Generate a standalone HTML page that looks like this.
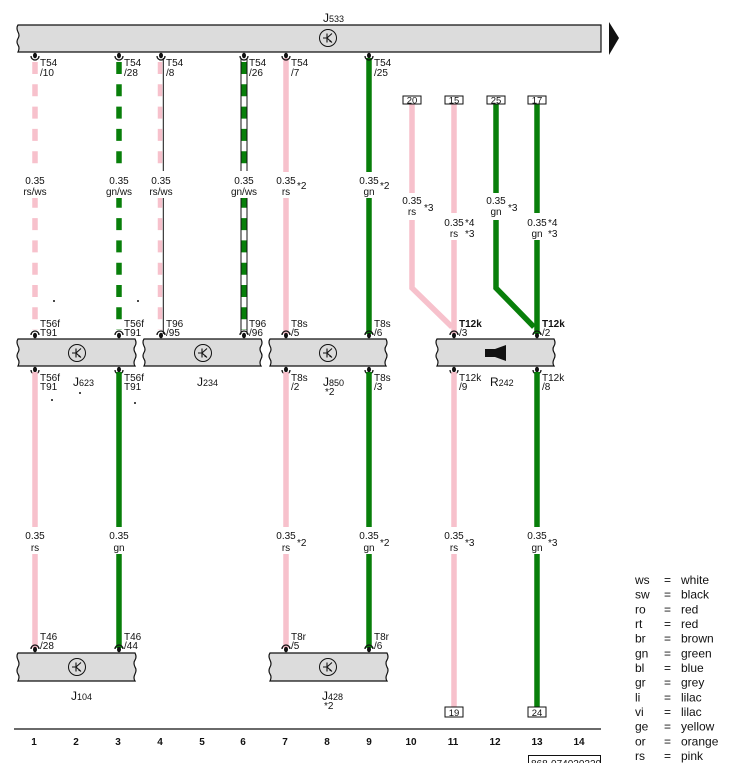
<!DOCTYPE html>
<html><head><meta charset="utf-8"><style>
html,body{margin:0;padding:0;background:#fff;}
svg{display:block;font-family:"Liberation Sans",Arial,sans-serif;}
text{fill:#111;font-size:10px;}
.c{text-anchor:middle;}
.b{font-weight:bold;}
</style></head><body>
<svg width="737" height="771" viewBox="0 0 737 771" xmlns="http://www.w3.org/2000/svg">
<defs>
<g id="sym">
<circle cx="0" cy="0" r="8.5" fill="none" stroke="#111" stroke-width="1"/>
<path d="M-5 0 H-1 M-1 -4.5 V4.5 M-1 0 L4 -4.5 M-1 0 L4 4.5" stroke="#111" stroke-width="1.1" fill="none"/>
<path d="M4 4.5 L1.2 3.8 L2.8 2.2 Z" fill="#111"/>
</g>
<g id="cup"><path d="M-4 4 A4 4 0 0 0 4 4" fill="none" stroke="#111" stroke-width="1.3"/><ellipse cx="0" cy="3.5" rx="2" ry="2.8" fill="#111"/></g>
<g id="cap"><path d="M-4 -4 A4 4 0 0 1 4 -4" fill="none" stroke="#111" stroke-width="1.3"/><ellipse cx="0" cy="-3.5" rx="2" ry="2.8" fill="#111"/></g>
</defs>

<!-- Top bar J533 -->
<path d="M18 25 H601 V52 H18 q2 -4 0 -7 q-2 -3 0 -6.5 q2 -3 0 -6.5 q-2 -4 0 -7 Z" fill="#dcdcdc" stroke="#111" stroke-width="1.2"/>
<path d="M609 22 L619 38 L609 55 Z" fill="#111"/>
<text x="323" y="22" style="font-size:12px">J<tspan style="font-size:9px">533</tspan></text>
<use href="#sym" x="328" y="38"/>

<!-- Top section wires (dashed) -->
<line x1="35" y1="62" x2="35" y2="330" stroke="#f7c1cc" stroke-width="5.5" stroke-dasharray="12 10.3"/>
<line x1="119" y1="62" x2="119" y2="330" stroke="#087f0a" stroke-width="5.5" stroke-dasharray="12 10.3"/>
<line x1="160" y1="62" x2="160" y2="330" stroke="#f7c1cc" stroke-width="4.5" stroke-dasharray="12 10.3"/>
<line x1="163.3" y1="58" x2="163.3" y2="334" stroke="#111" stroke-width="1"/>
<line x1="241" y1="58" x2="241" y2="334" stroke="#111" stroke-width="1"/>
<line x1="247" y1="58" x2="247" y2="334" stroke="#111" stroke-width="1"/>
<line x1="244" y1="62" x2="244" y2="330" stroke="#087f0a" stroke-width="5" stroke-dasharray="12 10.3"/>
<rect x="21" y="171" width="28" height="27" fill="#fff"/>
<rect x="105" y="171" width="28" height="27" fill="#fff"/>
<rect x="146" y="171" width="28" height="27" fill="#fff"/>
<rect x="230" y="171" width="28" height="27" fill="#fff"/>

<!-- Top solid wires -->
<line x1="286" y1="58" x2="286" y2="172" stroke="#f7c1cc" stroke-width="5.5"/>
<line x1="286" y1="198" x2="286" y2="334" stroke="#f7c1cc" stroke-width="5.5"/>
<line x1="369" y1="58" x2="369" y2="172" stroke="#087f0a" stroke-width="5.5"/>
<line x1="369" y1="198" x2="369" y2="334" stroke="#087f0a" stroke-width="5.5"/>

<!-- right side wires -->
<polyline points="412,104 412,193" fill="none" stroke="#f7c1cc" stroke-width="5.5"/>
<polyline points="412,220 412,288 452,327" fill="none" stroke="#f7c1cc" stroke-width="5.5"/>
<line x1="454" y1="104" x2="454" y2="213" stroke="#f7c1cc" stroke-width="5.5"/>
<line x1="454" y1="240" x2="454" y2="334" stroke="#f7c1cc" stroke-width="5.5"/>
<polyline points="496,104 496,193" fill="none" stroke="#087f0a" stroke-width="5.5"/>
<polyline points="496,220 496,288 534,327" fill="none" stroke="#087f0a" stroke-width="5.5"/>
<line x1="537" y1="104" x2="537" y2="213" stroke="#087f0a" stroke-width="5.5"/>
<line x1="537" y1="240" x2="537" y2="334" stroke="#087f0a" stroke-width="5.5"/>

<!-- top boxes -->
<rect x="403" y="96" width="18" height="8" fill="#fff" stroke="#111" stroke-width="1"/>
<rect x="445" y="96" width="18" height="8" fill="#fff" stroke="#111" stroke-width="1"/>
<rect x="487" y="96" width="18" height="8" fill="#fff" stroke="#111" stroke-width="1"/>
<rect x="528" y="96" width="18" height="8" fill="#fff" stroke="#111" stroke-width="1"/>
<text class="c" x="412" y="103.5" style="font-size:9.5px">20</text>
<text class="c" x="454" y="103.5" style="font-size:9.5px">15</text>
<text class="c" x="496" y="103.5" style="font-size:9.5px">25</text>
<text class="c" x="537" y="103.5" style="font-size:9.5px">17</text>

<!-- top connector glyphs -->
<use href="#cup" x="35" y="52"/><use href="#cup" x="119" y="52"/><use href="#cup" x="161" y="52"/>
<use href="#cup" x="244" y="52"/><use href="#cup" x="286" y="52"/><use href="#cup" x="369" y="52"/>
<text x="40" y="66">T54</text><text x="40" y="76">/10</text>
<text x="124" y="66">T54</text><text x="124" y="76">/28</text>
<text x="166" y="66">T54</text><text x="166" y="76">/8</text>
<text x="249" y="66">T54</text><text x="249" y="76">/26</text>
<text x="291" y="66">T54</text><text x="291" y="76">/7</text>
<text x="374" y="66">T54</text><text x="374" y="76">/25</text>

<!-- top wire labels -->
<text class="c" x="35" y="184">0.35</text><text class="c" x="35" y="195">rs/ws</text>
<text class="c" x="119" y="184">0.35</text><text class="c" x="119" y="195">gn/ws</text>
<text class="c" x="161" y="184">0.35</text><text class="c" x="161" y="195">rs/ws</text>
<text class="c" x="244" y="184">0.35</text><text class="c" x="244" y="195">gn/ws</text>
<text class="c" x="286" y="184">0.35</text><text class="c" x="286" y="195">rs</text><text x="297" y="189">*2</text>
<text class="c" x="369" y="184">0.35</text><text class="c" x="369" y="195">gn</text><text x="380" y="189">*2</text>
<text class="c" x="412" y="204">0.35</text><text class="c" x="412" y="215">rs</text><text x="424" y="211">*3</text>
<text class="c" x="454" y="226">0.35</text><text class="c" x="454" y="237">rs</text><text x="465" y="226">*4</text><text x="465" y="237">*3</text>
<text class="c" x="496" y="204">0.35</text><text class="c" x="496" y="215">gn</text><text x="508" y="211">*3</text>
<text class="c" x="537" y="226">0.35</text><text class="c" x="537" y="237">gn</text><text x="548" y="226">*4</text><text x="548" y="237">*3</text>

<circle cx="54" cy="301" r="1" fill="#111"/><circle cx="138" cy="301" r="1" fill="#111"/>

<!-- middle bars -->
<path d="M18 339 H135 q2 4 0 7 q-2 3 0 6.5 q2 3 0 6.5 q-2 4 0 7 H18 q2 -4 0 -7 q-2 -3 0 -6.5 q2 -3 0 -6.5 q-2 -4 0 -7 Z" fill="#dcdcdc" stroke="#111" stroke-width="1.2"/>
<path d="M144 339 H261 q2 4 0 7 q-2 3 0 6.5 q2 3 0 6.5 q-2 4 0 7 H144 q2 -4 0 -7 q-2 -3 0 -6.5 q2 -3 0 -6.5 q-2 -4 0 -7 Z" fill="#dcdcdc" stroke="#111" stroke-width="1.2"/>
<path d="M270 339 H386 q2 4 0 7 q-2 3 0 6.5 q2 3 0 6.5 q-2 4 0 7 H270 q2 -4 0 -7 q-2 -3 0 -6.5 q2 -3 0 -6.5 q-2 -4 0 -7 Z" fill="#dcdcdc" stroke="#111" stroke-width="1.2"/>
<path d="M437 339 H554 q2 4 0 7 q-2 3 0 6.5 q2 3 0 6.5 q-2 4 0 7 H437 q2 -4 0 -7 q-2 -3 0 -6.5 q2 -3 0 -6.5 q-2 -4 0 -7 Z" fill="#dcdcdc" stroke="#111" stroke-width="1.2"/>
<use href="#sym" x="77" y="353"/><use href="#sym" x="203" y="353"/><use href="#sym" x="328" y="353"/>
<rect x="485" y="349" width="10" height="8" fill="#111"/>
<path d="M495 349 L506 345 L506 361 L495 357 Z" fill="#111"/>

<!-- middle glyphs above -->
<use href="#cap" x="35" y="339"/><use href="#cap" x="119" y="339"/><use href="#cap" x="161" y="339"/>
<use href="#cap" x="244" y="339"/><use href="#cap" x="286" y="339"/><use href="#cap" x="369" y="339"/>
<use href="#cap" x="454" y="339"/><use href="#cap" x="537" y="339"/>
<text x="40" y="327">T56f</text><text x="40" y="336">T91</text>
<text x="124" y="327">T56f</text><text x="124" y="336">T91</text>
<text x="166" y="327">T96</text><text x="166" y="336">/95</text>
<text x="249" y="327">T96</text><text x="249" y="336">/96</text>
<text x="291" y="327">T8s</text><text x="291" y="336">/5</text>
<text x="374" y="327">T8s</text><text x="374" y="336">/6</text>
<text class="b" x="459" y="327">T12k</text><text x="459" y="336">/3</text>
<text class="b" x="542" y="327">T12k</text><text x="542" y="336">/2</text>

<!-- middle glyphs below -->
<use href="#cup" x="35" y="366"/><use href="#cup" x="119" y="366"/><use href="#cup" x="286" y="366"/>
<use href="#cup" x="369" y="366"/><use href="#cup" x="454" y="366"/><use href="#cup" x="537" y="366"/>
<text x="40" y="381">T56f</text><text x="40" y="390">T91</text>
<text x="124" y="381">T56f</text><text x="124" y="390">T91</text>
<text x="291" y="381">T8s</text><text x="291" y="390">/2</text>
<text x="374" y="381">T8s</text><text x="374" y="390">/3</text>
<text x="459" y="381">T12k</text><text x="459" y="390">/9</text>
<text x="542" y="381">T12k</text><text x="542" y="390">/8</text>
<text x="73" y="386" style="font-size:12px">J<tspan style="font-size:9px">623</tspan></text>
<text x="197" y="386" style="font-size:12px">J<tspan style="font-size:9px">234</tspan></text>
<text x="323" y="386" style="font-size:12px">J<tspan style="font-size:9px">850</tspan></text>
<text x="325" y="395">*2</text>
<text x="490" y="386" style="font-size:12px">R<tspan style="font-size:9px">242</tspan></text>
<circle cx="52" cy="400" r="1" fill="#111"/><circle cx="80" cy="393" r="1" fill="#111"/><circle cx="135" cy="403" r="1" fill="#111"/>

<!-- lower wires -->
<line x1="35" y1="372" x2="35" y2="527" stroke="#f7c1cc" stroke-width="5.5"/>
<line x1="35" y1="554" x2="35" y2="648" stroke="#f7c1cc" stroke-width="5.5"/>
<line x1="119" y1="372" x2="119" y2="527" stroke="#087f0a" stroke-width="5.5"/>
<line x1="119" y1="554" x2="119" y2="648" stroke="#087f0a" stroke-width="5.5"/>
<line x1="286" y1="372" x2="286" y2="527" stroke="#f7c1cc" stroke-width="5.5"/>
<line x1="286" y1="554" x2="286" y2="648" stroke="#f7c1cc" stroke-width="5.5"/>
<line x1="369" y1="372" x2="369" y2="527" stroke="#087f0a" stroke-width="5.5"/>
<line x1="369" y1="554" x2="369" y2="648" stroke="#087f0a" stroke-width="5.5"/>
<line x1="454" y1="372" x2="454" y2="527" stroke="#f7c1cc" stroke-width="5.5"/>
<line x1="454" y1="554" x2="454" y2="707" stroke="#f7c1cc" stroke-width="5.5"/>
<line x1="537" y1="372" x2="537" y2="527" stroke="#087f0a" stroke-width="5.5"/>
<line x1="537" y1="554" x2="537" y2="707" stroke="#087f0a" stroke-width="5.5"/>

<text class="c" x="35" y="539">0.35</text><text class="c" x="35" y="551">rs</text>
<text class="c" x="119" y="539">0.35</text><text class="c" x="119" y="551">gn</text>
<text class="c" x="286" y="539">0.35</text><text class="c" x="286" y="551">rs</text><text x="297" y="546">*2</text>
<text class="c" x="369" y="539">0.35</text><text class="c" x="369" y="551">gn</text><text x="380" y="546">*2</text>
<text class="c" x="454" y="539">0.35</text><text class="c" x="454" y="551">rs</text><text x="465" y="546">*3</text>
<text class="c" x="537" y="539">0.35</text><text class="c" x="537" y="551">gn</text><text x="548" y="546">*3</text>

<!-- bottom bars -->
<path d="M18 653 H135 q2 4 0 7 q-2 3 0 7 q2 3 0 7 q-2 4 0 7 H18 q2 -4 0 -7 q-2 -3 0 -7 q2 -3 0 -7 q-2 -4 0 -7 Z" fill="#dcdcdc" stroke="#111" stroke-width="1.2"/>
<path d="M270 653 H387 q2 4 0 7 q-2 3 0 7 q2 3 0 7 q-2 4 0 7 H270 q2 -4 0 -7 q-2 -3 0 -7 q2 -3 0 -7 q-2 -4 0 -7 Z" fill="#dcdcdc" stroke="#111" stroke-width="1.2"/>
<use href="#sym" x="77" y="667"/><use href="#sym" x="328" y="667"/>
<use href="#cap" x="35" y="653"/><use href="#cap" x="119" y="653"/><use href="#cap" x="286" y="653"/><use href="#cap" x="369" y="653"/>
<text x="40" y="640">T46</text><text x="40" y="649">/28</text>
<text x="124" y="640">T46</text><text x="124" y="649">/44</text>
<text x="291" y="640">T8r</text><text x="291" y="649">/5</text>
<text x="374" y="640">T8r</text><text x="374" y="649">/6</text>
<text x="71" y="700" style="font-size:12px">J<tspan style="font-size:9px">104</tspan></text>
<text x="322" y="700" style="font-size:12px">J<tspan style="font-size:9px">428</tspan></text>
<text x="324" y="709">*2</text>

<rect x="445" y="707" width="18" height="10" fill="#fff" stroke="#111" stroke-width="1"/>
<rect x="528" y="707" width="18" height="10" fill="#fff" stroke="#111" stroke-width="1"/>
<text class="c" x="454" y="716" style="font-size:9.5px">19</text>
<text class="c" x="537" y="716" style="font-size:9.5px">24</text>

<!-- axis -->
<line x1="14" y1="729" x2="601" y2="729" stroke="#111" stroke-width="1.2"/>
<g class="b" style="font-size:10px">
<text class="c b" x="34" y="745">1</text><text class="c b" x="76" y="745">2</text><text class="c b" x="118" y="745">3</text>
<text class="c b" x="160" y="745">4</text><text class="c b" x="202" y="745">5</text><text class="c b" x="243" y="745">6</text>
<text class="c b" x="285" y="745">7</text><text class="c b" x="327" y="745">8</text><text class="c b" x="369" y="745">9</text>
<text class="c b" x="411" y="745">10</text><text class="c b" x="453" y="745">11</text><text class="c b" x="495" y="745">12</text>
<text class="c b" x="537" y="745">13</text><text class="c b" x="579" y="745">14</text>
</g>
<rect x="528.5" y="755.5" width="72" height="20" fill="#fff" stroke="#111" stroke-width="1"/>
<text x="531" y="767">868-074020220</text>
<rect x="520" y="763" width="90" height="10" fill="#fff"/>

<!-- legend -->
<g>
<text x="635" y="584" style="font-size:12px">ws</text><text x="664" y="584" style="font-size:12px">=</text><text x="681" y="584" style="font-size:12px">white</text>
<text x="635" y="598.7" style="font-size:12px">sw</text><text x="664" y="598.7" style="font-size:12px">=</text><text x="681" y="598.7" style="font-size:12px">black</text>
<text x="635" y="613.3" style="font-size:12px">ro</text><text x="664" y="613.3" style="font-size:12px">=</text><text x="681" y="613.3" style="font-size:12px">red</text>
<text x="635" y="628" style="font-size:12px">rt</text><text x="664" y="628" style="font-size:12px">=</text><text x="681" y="628" style="font-size:12px">red</text>
<text x="635" y="642.7" style="font-size:12px">br</text><text x="664" y="642.7" style="font-size:12px">=</text><text x="681" y="642.7" style="font-size:12px">brown</text>
<text x="635" y="657.3" style="font-size:12px">gn</text><text x="664" y="657.3" style="font-size:12px">=</text><text x="681" y="657.3" style="font-size:12px">green</text>
<text x="635" y="672" style="font-size:12px">bl</text><text x="664" y="672" style="font-size:12px">=</text><text x="681" y="672" style="font-size:12px">blue</text>
<text x="635" y="686.7" style="font-size:12px">gr</text><text x="664" y="686.7" style="font-size:12px">=</text><text x="681" y="686.7" style="font-size:12px">grey</text>
<text x="635" y="701.3" style="font-size:12px">li</text><text x="664" y="701.3" style="font-size:12px">=</text><text x="681" y="701.3" style="font-size:12px">lilac</text>
<text x="635" y="716" style="font-size:12px">vi</text><text x="664" y="716" style="font-size:12px">=</text><text x="681" y="716" style="font-size:12px">lilac</text>
<text x="635" y="730.7" style="font-size:12px">ge</text><text x="664" y="730.7" style="font-size:12px">=</text><text x="681" y="730.7" style="font-size:12px">yellow</text>
<text x="635" y="745.3" style="font-size:12px">or</text><text x="664" y="745.3" style="font-size:12px">=</text><text x="681" y="745.3" style="font-size:12px">orange</text>
<text x="635" y="760" style="font-size:12px">rs</text><text x="664" y="760" style="font-size:12px">=</text><text x="681" y="760" style="font-size:12px">pink</text>
</g>
</svg>
</body></html>
